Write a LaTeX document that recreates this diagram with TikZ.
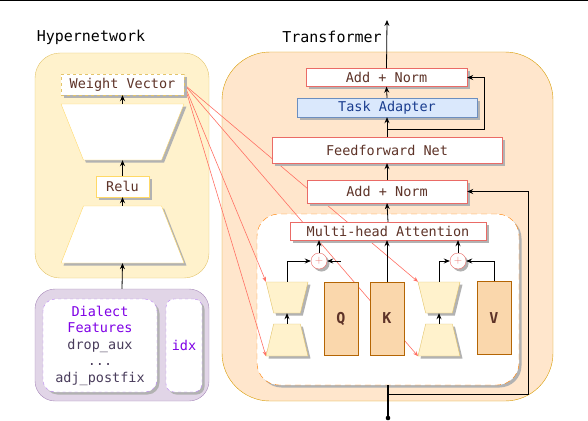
\documentclass[tikz,border=0pt]{standalone}
\usepackage{fontspec}
\setmonofont{DejaVu Sans Mono}
\usepackage{tikz}
\usetikzlibrary{arrows,arrows.meta,shapes,shadows,backgrounds,positioning}
\definecolor{hypfill}{HTML}{FFF2CC}
\definecolor{hypline}{HTML}{E3C46A}
\definecolor{hypbox}{HTML}{FFD966}
\definecolor{featfill}{HTML}{E1D5E7}
\definecolor{featline}{HTML}{A98BBB}
\definecolor{featdash}{HTML}{B77FF5}
\definecolor{dpurple}{HTML}{7F00E6}
\definecolor{fgray}{HTML}{4A3D5C}
\definecolor{trffill}{HTML}{FFE6CC}
\definecolor{trfline}{HTML}{D79B00}
\definecolor{redline}{HTML}{EA6B66}
\definecolor{tbrown}{HTML}{5E3328}
\definecolor{adfill}{HTML}{DAE8FC}
\definecolor{adline}{HTML}{6C8EBF}
\definecolor{adtext}{HTML}{1A3D8F}
\definecolor{attnline}{HTML}{FF8000}
\definecolor{qkvfill}{HTML}{FAD7AC}
\definecolor{qkvline}{HTML}{B46504}
\definecolor{wred}{HTML}{FF7064}
\pgfdeclarelayer{back}
\pgfdeclarelayer{mid}
\pgfsetlayers{back,mid,main}

\tikzstyle{shd}=[drop shadow={shadow xshift=2.5pt,shadow yshift=-2.5pt,fill=black!30,opacity=1}]
\tikzstyle{title}=[font=\ttfamily\fontsize{15}{18}\selectfont]
\tikzstyle{hbox}=[rectangle,fill=white,draw=hypbox,shd,text=tbrown,inner sep=0pt]
\tikzstyle{htrap}=[trapezium,trapezium stretches=true,fill=white,draw=hypbox,shd,inner sep=2pt,
                   minimum width=123pt]
\tikzstyle{atrap}=[trapezium,trapezium stretches=true,fill=hypfill,draw=hypline,shd,inner sep=2pt,
                   minimum width=42pt,trapezium angle=74]
\tikzstyle{flip}=[shape border rotate=180]
\tikzstyle{tbox}=[rectangle,fill=white,draw=redline,shd,text=tbrown,inner sep=0pt]
\tikzstyle{qkv}=[rectangle,fill=qkvfill,draw=qkvline,text=tbrown,inner sep=0pt,
                 minimum width=34pt,minimum height=73pt,font=\ttfamily\bfseries\fontsize{15}{18}\selectfont]
\tikzstyle{plus}=[circle,fill=white,draw=redline,text=redline,shd,minimum size=16pt,inner sep=0pt,
                  font=\sffamily\fontsize{11}{11}\selectfont]
\tikzstyle{arr}=[->,line width=.8pt]
\tikzstyle{wline}=[-{Stealth[length=5pt,width=4pt]},draw=wred,line width=.6pt]

\begin{document}
\begin{tikzpicture}[x=1pt,y=-1pt,>={Stealth[length=6pt,width=5pt]},
                    font=\ttfamily\fontsize{13.5}{16.5}\selectfont]
	\useasboundingbox (0,0) rectangle (588,420);
	\draw[line width=1pt] (0,1) -- (588,1);

	\node[title] (thyp) at (91,37) {Hypernetwork};
	\node[title] (ttrf) at (332,37) {Transformer};

	\begin{pgfonlayer}{back}
	\node[rectangle,rounded corners=25pt,fill=hypfill,draw=hypline,minimum width=174pt,
	      minimum height=225pt] (hyp) at (122,165.5) {};
	\node[rectangle,rounded corners=20pt,fill=featfill,draw=featline,minimum width=174pt,
	      minimum height=112pt] (feat) at (122,345) {};
	\node[rectangle,rounded corners=48pt,fill=trffill,draw=trfline,minimum width=331pt,
	      minimum height=349pt] (trf) at (387.5,226.5) {};
	\node[rectangle,rounded corners=22pt,fill=white,draw=attnline,dashed,
	      dash pattern=on 6pt off 4pt,shd,minimum width=262pt,minimum height=171pt] (attn) at (388,299.5) {};
	\end{pgfonlayer}

	% hypernetwork
	\node[hbox,draw=hypline,dashed,minimum width=123pt,minimum height=21pt] (wvec) at (122.5,84.5) {Weight Vector};
	\node[htrap,flip,trapezium angle=74,minimum height=56pt] (tup) at (122.5,132) {};
	\node[hbox,minimum width=53pt,minimum height=21pt] (relu) at (122.5,186.5) {Relu};
	\node[htrap,trapezium angle=74,minimum height=57pt] (tlo) at (122.5,234.5) {};
	\node[rectangle,rounded corners=12pt,fill=white,draw=featdash,dashed,shd,text=fgray,align=center,
	      minimum width=114pt,minimum height=93pt,inner sep=0pt] (dial) at (100,345.5)
	      {\textcolor{dpurple}{Dialect}\\\textcolor{dpurple}{Features}\\drop\_aux\\...\\adj\_postfix};
	\node[rectangle,rounded corners=8pt,fill=white,draw=featdash,dashed,shd,text=dpurple,
	      minimum width=36pt,minimum height=93pt,inner sep=0pt] (idx) at (184,345.5) {idx};

	\draw[arr] (feat.north) -- (tlo.south);
	\draw[arr] (tlo.north) -- (relu.south);
	\draw[arr] (relu.north) -- (tup.south);
	\draw[arr] (tup.north) -- (wvec.south);

	% transformer
	\node[tbox,minimum width=161pt,minimum height=18pt] (an2) at (386.5,77.5) {Add + Norm};
	\node[tbox,fill=adfill,draw=adline,text=adtext,minimum width=180pt,minimum height=19pt]
	      (tad) at (387,107.5) {Task Adapter};
	\node[tbox,minimum width=230pt,minimum height=26pt] (ffn) at (387,150) {Feedforward Net};
	\node[tbox,minimum width=160pt,minimum height=23pt] (an1) at (387,191.5) {Add + Norm};
	\node[tbox,minimum width=196pt,minimum height=18pt] (mha) at (388,231) {Multi-head Attention};

	\node[plus] (plusL) at (319,261) {+};
	\node[plus] (plusR) at (458,261) {+};
	\node[atrap,flip,minimum height=31pt] (upL) at (287,297.5) {};
	\node[atrap,minimum height=32pt] (loL) at (287,340) {};
	\node[atrap,flip,minimum height=31pt] (upR) at (439,297.5) {};
	\node[atrap,minimum height=32pt] (loR) at (439,340) {};
	\node[qkv] (Q) at (341,318.5) {Q};
	\node[qkv] (K) at (387,318.5) {K};
	\node[qkv] (V) at (494,318) {V};

	\coordinate (out) at (387,20);
	\coordinate (inp) at (388,418);
	\coordinate (split1) at (388,394);
	\coordinate (c1) at (528,191.5);
	\coordinate (split2) at (387,129);
	\coordinate (c2) at (484,77.5);
	\coordinate (qin) at (341,261);

	\draw[arr] (an2.north) -- (out);
	\draw[arr] (tad.north) -- (an2.south);
	\draw[arr] (ffn.north) -- (tad.south);
	\draw[arr] (an1.north) -- (ffn.south);
	\draw[arr] (mha.north) -- (an1.south);
	\draw[arr] (split2) -| (c2) -- (an2.east);
	\draw[arr] (split1) -| (c1) -- (an1.east);
	\draw[line width=1.6pt] (inp) -- (attn.south);
	\fill (inp) circle (2.3);

	\draw[arr] (K.north) -- (mha.south -| K.north);
	\draw[arr] (loL.north) -- (upL.south);
	\draw[arr] (loR.north) -- (upR.south);
	\draw[arr] (upL.north) |- (plusL.west);
	\draw[arr] (qin) -- (plusL.east);
	\draw[arr] (upR.north) |- (plusR.west);
	\draw[arr] (V.north) |- (plusR.east);
	\draw[arr] (plusL.north) -- (mha.south -| plusL.north);
	\draw[arr] (plusR.north) -- (mha.south -| plusR.north);

	\begin{pgfonlayer}{mid}
	\foreach \t/\a in {upL/north,loL/south,upR/north,loR/south}
		\draw[wline] (wvec.east) -- ([xshift=-21pt]\t.\a);
	\end{pgfonlayer}
\end{tikzpicture}
\end{document}
